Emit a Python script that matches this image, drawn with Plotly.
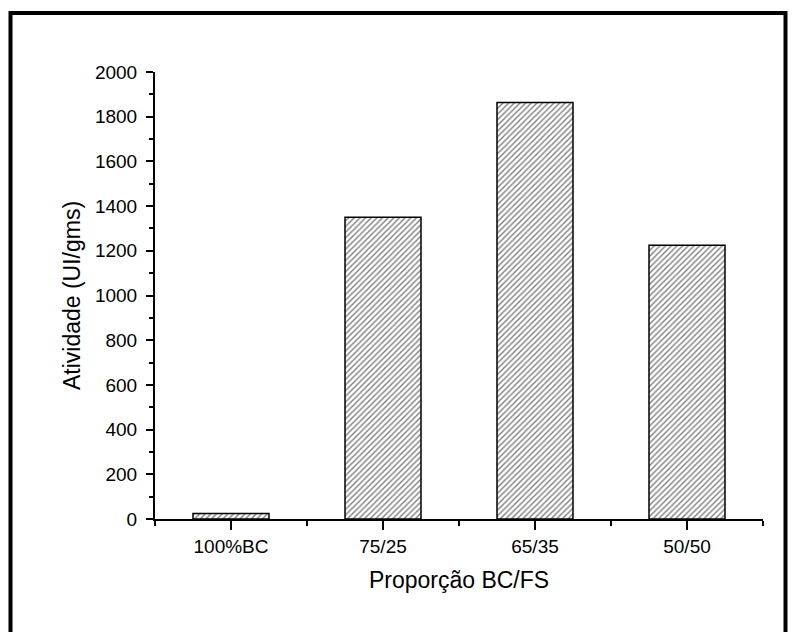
import plotly.graph_objects as go

categories = ["100%BC", "75/25", "65/35", "50/50"]
values = [25, 1350, 1863, 1225]
y_tick_values = list(range(0, 2001, 200))

W, H = 795, 632
L, R, T, B = 155, 32, 72, 113
PW, PH = W - L - R, H - T - B

FONT = "Arial, Liberation Sans, sans-serif"

fig = go.Figure(go.Bar(
    x=list(range(len(categories))),
    y=values,
    width=0.5,
    marker=dict(
        color="white",
        line=dict(color="black", width=1.5),
        pattern=dict(shape="/", fgcolor="black", bgcolor="white", size=4, solidity=0.35),
    ),
    showlegend=False,
))

def px_x(p):
    return (p - L) / PW

def px_y(p):
    return (H - B - p) / PH

frame_path = "M {x0},{y1} L {x0},{y0} L {x2},{y0} L {x2},{y1}".format(
    x0=px_x(10.5), y0=px_y(13), x2=px_x(785.5), y1=px_y(640))

fig.update_layout(
    width=W, height=H,
    margin=dict(l=L, r=R, t=T, b=B, pad=0),
    paper_bgcolor="white", plot_bgcolor="white",
    font=dict(family=FONT, color="black", size=19),
    xaxis=dict(
        range=[-0.5, 3.5],
        tickvals=list(range(len(categories))),
        ticktext=categories,
        ticks="outside", ticklen=9, tickwidth=2, tickcolor="black",
        showline=True, linewidth=2, linecolor="black",
        showgrid=False, zeroline=False,
        tickfont=dict(size=19),
        minor=dict(ticks="outside", ticklen=5, tickwidth=2, tickcolor="black",
                   tick0=-0.5, dtick=1, showgrid=False),
        title=dict(text="Proporção BC/FS", font=dict(size=23), standoff=16),
    ),
    yaxis=dict(
        range=[0, 2000],
        tickvals=y_tick_values,
        ticks="outside", ticklen=7, tickwidth=2, tickcolor="black",
        showline=True, linewidth=2, linecolor="black",
        showgrid=False, zeroline=False,
        tickfont=dict(size=19),
        ticklabelstandoff=5,
        minor=dict(ticks="outside", ticklen=4, tickwidth=2, tickcolor="black",
                   dtick=100, showgrid=False),
        title=dict(text="Atividade (UI/gms)", font=dict(size=23), standoff=8),
    ),
    shapes=[dict(type="path", xref="paper", yref="paper", path=frame_path,
                 line=dict(color="black", width=4), layer="above")],
)

fig.write_html("out.html")
